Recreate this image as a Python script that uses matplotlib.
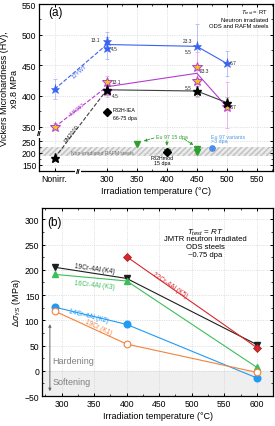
import matplotlib.pyplot as plt
import numpy as np
from matplotlib.ticker import FixedLocator, MultipleLocator

plt.rcParams['font.family'] = ['Liberation Sans', 'DejaVu Sans']
plt.rcParams['mathtext.fontset'] = 'custom'
plt.rcParams['mathtext.rm'] = 'Liberation Sans'
plt.rcParams['mathtext.it'] = 'Liberation Sans:italic'
plt.rcParams['xtick.direction'] = 'in'
plt.rcParams['ytick.direction'] = 'in'
plt.rcParams['xtick.top'] = True
plt.rcParams['ytick.right'] = True
plt.rcParams['axes.linewidth'] = 0.9

NONIRR = 213  # x position of the "Nonirr." column on the broken axis

# ---- panel (a): Vickers hardness (HV) ----
ywt_x = [NONIRR, 300, 300, 450, 500]
ywt_hv = [411, 489, 478, 481, 453]
ywt_err = [16, 15, 18, 37, 20]
ywt_line_x = [300, 450, 500]
ywt_line = [484, 481, 453]

ma_x = [NONIRR, 300, 300, 450, 450, 500]
ma_hv = [346, 423, 408, 447, 424, 382]
ma_err = [10, 10, 10, 25, 25, 40]
ma_line_x = [300, 450, 500]
ma_line = [415, 437, 382]

pm_x = [NONIRR, 300, 450, 500]
pm_hv = [178, 410, 408, 389]
pm_err = [8, 8, 8, 10]

eu97_x = [350, 400, 450, 450]
eu97_hv = [238, 205, 216, 203]
eu97_err = [6, 5, 5, 5]
f82h_iea = (300, 373)
f82h_mod = (400, 205)
eu97_var = (475, 220)
rafm_band = (185, 225)

dpa_labels = [  # text, x, y, ha
    ('13.1', 288, 493, 'right'),
    ('4.5', 306, 477, 'left'),
    ('23.3', 442, 490, 'right'),
    ('5.5', 442, 473, 'right'),
    ('6.7', 505, 454, 'left'),
    ('13.1', 308, 424, 'left'),
    ('4.5', 308, 400, 'left'),
    ('23.3', 455, 442, 'left'),
    ('6.7', 505, 383, 'left'),
    ('5.5', 442, 414, 'right'),
]

# ---- panel (b): yield strength change (MPa) ----
temps_b = [290, 400, 600]
k4 = [205, 183, 52]
k3 = [191, 178, 7]
k5_t = [400, 600]
k5 = [226, 46]
k2 = [126, 92, -14]
k1 = [118, 53, -3]

fig = plt.figure(figsize=(2.75, 4.27), dpi=100)
ax1 = fig.add_axes([0.142, 0.597, 0.851, 0.391])
ax2 = fig.add_axes([0.153, 0.070, 0.840, 0.440])

# broken y axis for panel (a): 150-250 compressed, 350-550 normal
brk_real = [-2000, 250, 350, 5000]
brk_disp = [326.3 - 2250 * 0.3837, 326.3, 350, 5000]


def fwd(y):
    return np.interp(y, brk_real, brk_disp)


def inv(d):
    return np.interp(d, brk_disp, brk_real)


ax1.set_yscale('function', functions=(fwd, inv))
ax1.set_xlim(187, 577)
ax1.set_ylim(122, 550)

blue = '#3a62f0'
purple = '#b43cd2'
green = '#2ea02e'

ax1.axhspan(*rafm_band, facecolor='#ececec', edgecolor='#c0c0c0', hatch='//////', lw=0, zorder=0)
ax1.text(293, 203, 'Non-irradiated RAFM steels', fontsize=3.6, color='#707070',
         ha='center', va='center')

eb = dict(fmt='none', capsize=1.2, elinewidth=0.6, capthick=0.6)
ax1.errorbar(ywt_x, ywt_hv, yerr=ywt_err, ecolor='#aabcf2', **eb)
ax1.errorbar(ma_x, ma_hv, yerr=ma_err, ecolor='#e5b0ee', **eb)
ax1.errorbar(pm_x, pm_hv, yerr=pm_err, ecolor='#b0b0b0', **eb)
ax1.errorbar(eu97_x, eu97_hv, yerr=eu97_err, ecolor='#8fd08f', **eb)

ax1.plot([NONIRR, 300], [ywt_hv[0], ywt_line[0]], '--', color=blue, lw=0.8)
ax1.plot([NONIRR, 300], [ma_hv[0], ma_line[0]], '--', color=purple, lw=0.8)
ax1.plot([NONIRR, 300], [pm_hv[0], pm_hv[1]], '--', color='#404040', lw=0.8)
ax1.plot(ywt_line_x, ywt_line, '-', color=blue, lw=0.8)
ax1.plot(ma_line_x, ma_line, '-', color=purple, lw=0.8)
ax1.plot(pm_x[1:], pm_hv[1:], '-', color='#404040', lw=0.8)

ax1.plot(ywt_x, ywt_hv, '*', color=blue, ms=6.5, mec=blue, mew=0.4, ls='none')
ax1.plot(ma_x, ma_hv, '*', mfc='#f2c318', mec=purple, ms=7.5, mew=0.7, ls='none')
ax1.plot(pm_x, pm_hv, '*', color='black', ms=6.5, ls='none')
ax1.plot(eu97_x, eu97_hv, 'v', color=green, ms=3.8, ls='none')
ax1.plot(*f82h_iea, 'D', color='black', ms=3.8)
ax1.plot(*f82h_mod, 'D', color='black', ms=3.8)
ax1.plot(*eu97_var, 'o', color='#4a8ee8', ms=3.8)

for t, x, y, ha in dpa_labels:
    ax1.text(x, y, t, fontsize=3.5, ha=ha, va='center', color='#2a2a2a')

ax1.text(254, 441, '12YWT', fontsize=4, color=blue, rotation=41, ha='center', va='center')
ax1.text(251, 379, 'MA957', fontsize=4, color=purple, rotation=38, ha='center', va='center')
ax1.text(242, 305, 'PM2000', fontsize=4, color='#303030', rotation=52, ha='center', va='center')

ax1.text(310, 378, 'F82H-IEA', fontsize=3.8, va='center')
ax1.text(310, 364, '66-75 dpa', fontsize=3.8, va='center')
ax1.text(393, 180, 'F82Hmod', fontsize=3.8, ha='center', va='center')
ax1.text(393, 160, '15 dpa', fontsize=3.8, ha='center', va='center')
ax1.text(408, 282, 'Eu 97 15 dpa', fontsize=3.8, color=green, ha='center', va='center')
ax1.text(473, 283, 'Eu 97 variants', fontsize=3.8, color='#4a9ae8', va='center')
ax1.text(473, 255, '>3 dpa', fontsize=3.8, color='#4a9ae8', va='center')
arr = dict(arrowstyle='-|>', color=green, lw=0.6, ls='--', mutation_scale=4)
ax1.annotate('', xy=(357, 247), xytext=(383, 276), arrowprops=arr)
ax1.annotate('', xy=(400, 218), xytext=(400, 272), arrowprops=arr)
ax1.annotate('', xy=(448, 226), xytext=(425, 275), arrowprops=arr)

ax1.text(0.979, 0.985, r'$T_{test}$ = RT' + '\nNeutron irradiated\nODS and RAFM steels',
         transform=ax1.transAxes, fontsize=4.2, ha='right', va='top', linespacing=1.35)
ax1.text(0.038, 0.95, '(a)', transform=ax1.transAxes, fontsize=8.5, va='center')

ax1.set_xticks([NONIRR, 300, 350, 400, 450, 500, 550])
ax1.set_xticklabels(['Nonirr.', '300', '350', '400', '450', '500', '550'])
ax1.xaxis.set_minor_locator(FixedLocator([325, 375, 425, 475, 525, 575]))
ax1.set_yticks([150, 200, 250, 350, 400, 450, 500, 550])
ax1.yaxis.set_minor_locator(FixedLocator([175, 225, 375, 425, 475, 525]))
ax1.grid(True, ls=':', lw=0.5, color='#c8c8c8')
ax1.set_xlabel('Irradiation temperature (°C)', fontsize=6.5, labelpad=2)
ax1.set_ylabel('Vickers Microhardness (HV),\nx9.8 MPa', fontsize=6.5, labelpad=2, linespacing=1.1)

# axis break marks
brk = dict(fontsize=6, ha='center', va='center', fontweight='bold',
           bbox=dict(fc='white', ec='none', pad=0.2), clip_on=False)
ax1.text(252, 0, '//', transform=ax1.get_xaxis_transform(), **brk)
ax1.text(0, 300, '//', transform=ax1.get_yaxis_transform(), **brk)

# ---- panel (b) ----
ax2.set_xlim(270, 625)
ax2.set_ylim(-50, 322)
ax2.axhspan(-50, 0, color='#efefef', zorder=0)

c_k4, c_k3, c_k5, c_k2, c_k1 = '#1e1e1e', '#3cbf5a', '#d8282c', '#1f9bf5', '#f5823a'
ax2.plot(temps_b, k4, '-v', color=c_k4, lw=0.8, ms=4.8)
ax2.plot(temps_b, k3, '-^', color=c_k3, lw=0.8, ms=4.8)
ax2.plot(k5_t, k5, '-D', color=c_k5, lw=0.8, ms=4, mec='#a0181c', mew=0.5)
ax2.plot(temps_b, k2, '-o', color=c_k2, lw=0.8, ms=4.8)
ax2.plot(temps_b, k1, '-o', color=c_k1, mfc='white', lw=0.8, ms=4.8, mew=0.8)

ax2.text(351, 202, '19Cr-4Al (K4)', fontsize=4.8, color=c_k4, rotation=-8, ha='center', va='center')
ax2.text(350, 170, '16Cr-4Al (K3)', fontsize=4.8, color=c_k3, rotation=-6, ha='center', va='center')
ax2.text(342, 110, '14Cr-4Al (K2)', fontsize=4.8, color=c_k2, rotation=-14, ha='center', va='center')
ax2.text(356, 88, '19Cr (K1)', fontsize=4.8, color=c_k1, rotation=-25, ha='center', va='center')
ax2.text(466, 172, '22Cr-4Al (K5)', fontsize=4.8, color=c_k5, rotation=-34, ha='center', va='center')

ax2.annotate('', xy=(282, 98), xytext=(282, -46),
             arrowprops=dict(arrowstyle='<|-|>', color='#6a6a6a', lw=0.7, mutation_scale=4))
ax2.text(286, 20, 'Hardening', fontsize=6.5, color='#808080', va='center')
ax2.text(286, -22, 'Softening', fontsize=6.5, color='#808080', va='center')

ax2.text(521, 276, r'$T_{test}$ = $RT$', fontsize=5.8, ha='center', va='center')
ax2.text(521, 246, 'JMTR neutron irradiated\nODS steels\n~0.75 dpa', fontsize=5.5,
         ha='center', va='center', linespacing=1.2)
ax2.text(0.022, 0.926, '(b)', transform=ax2.transAxes, fontsize=8.5, va='center')

ax2.set_xticks([300, 350, 400, 450, 500, 550, 600])
ax2.xaxis.set_minor_locator(MultipleLocator(25))
ax2.set_yticks([-50, 0, 50, 100, 150, 200, 250, 300])
ax2.yaxis.set_minor_locator(MultipleLocator(25))
ax2.grid(True, ls=':', lw=0.5, color='#c8c8c8')
ax2.set_xlabel('Irradiation temperature (°C)', fontsize=6.5, labelpad=2)
ax2.set_ylabel(r'$\Delta\sigma_{YS}$ (MPa)', fontsize=6.5, labelpad=1)

for ax in (ax1, ax2):
    ax.tick_params(which='major', length=2.5, width=0.7, labelsize=6.2, pad=2)
    ax.tick_params(which='minor', length=1.3, width=0.5)

plt.savefig('out.png', dpi=100)
